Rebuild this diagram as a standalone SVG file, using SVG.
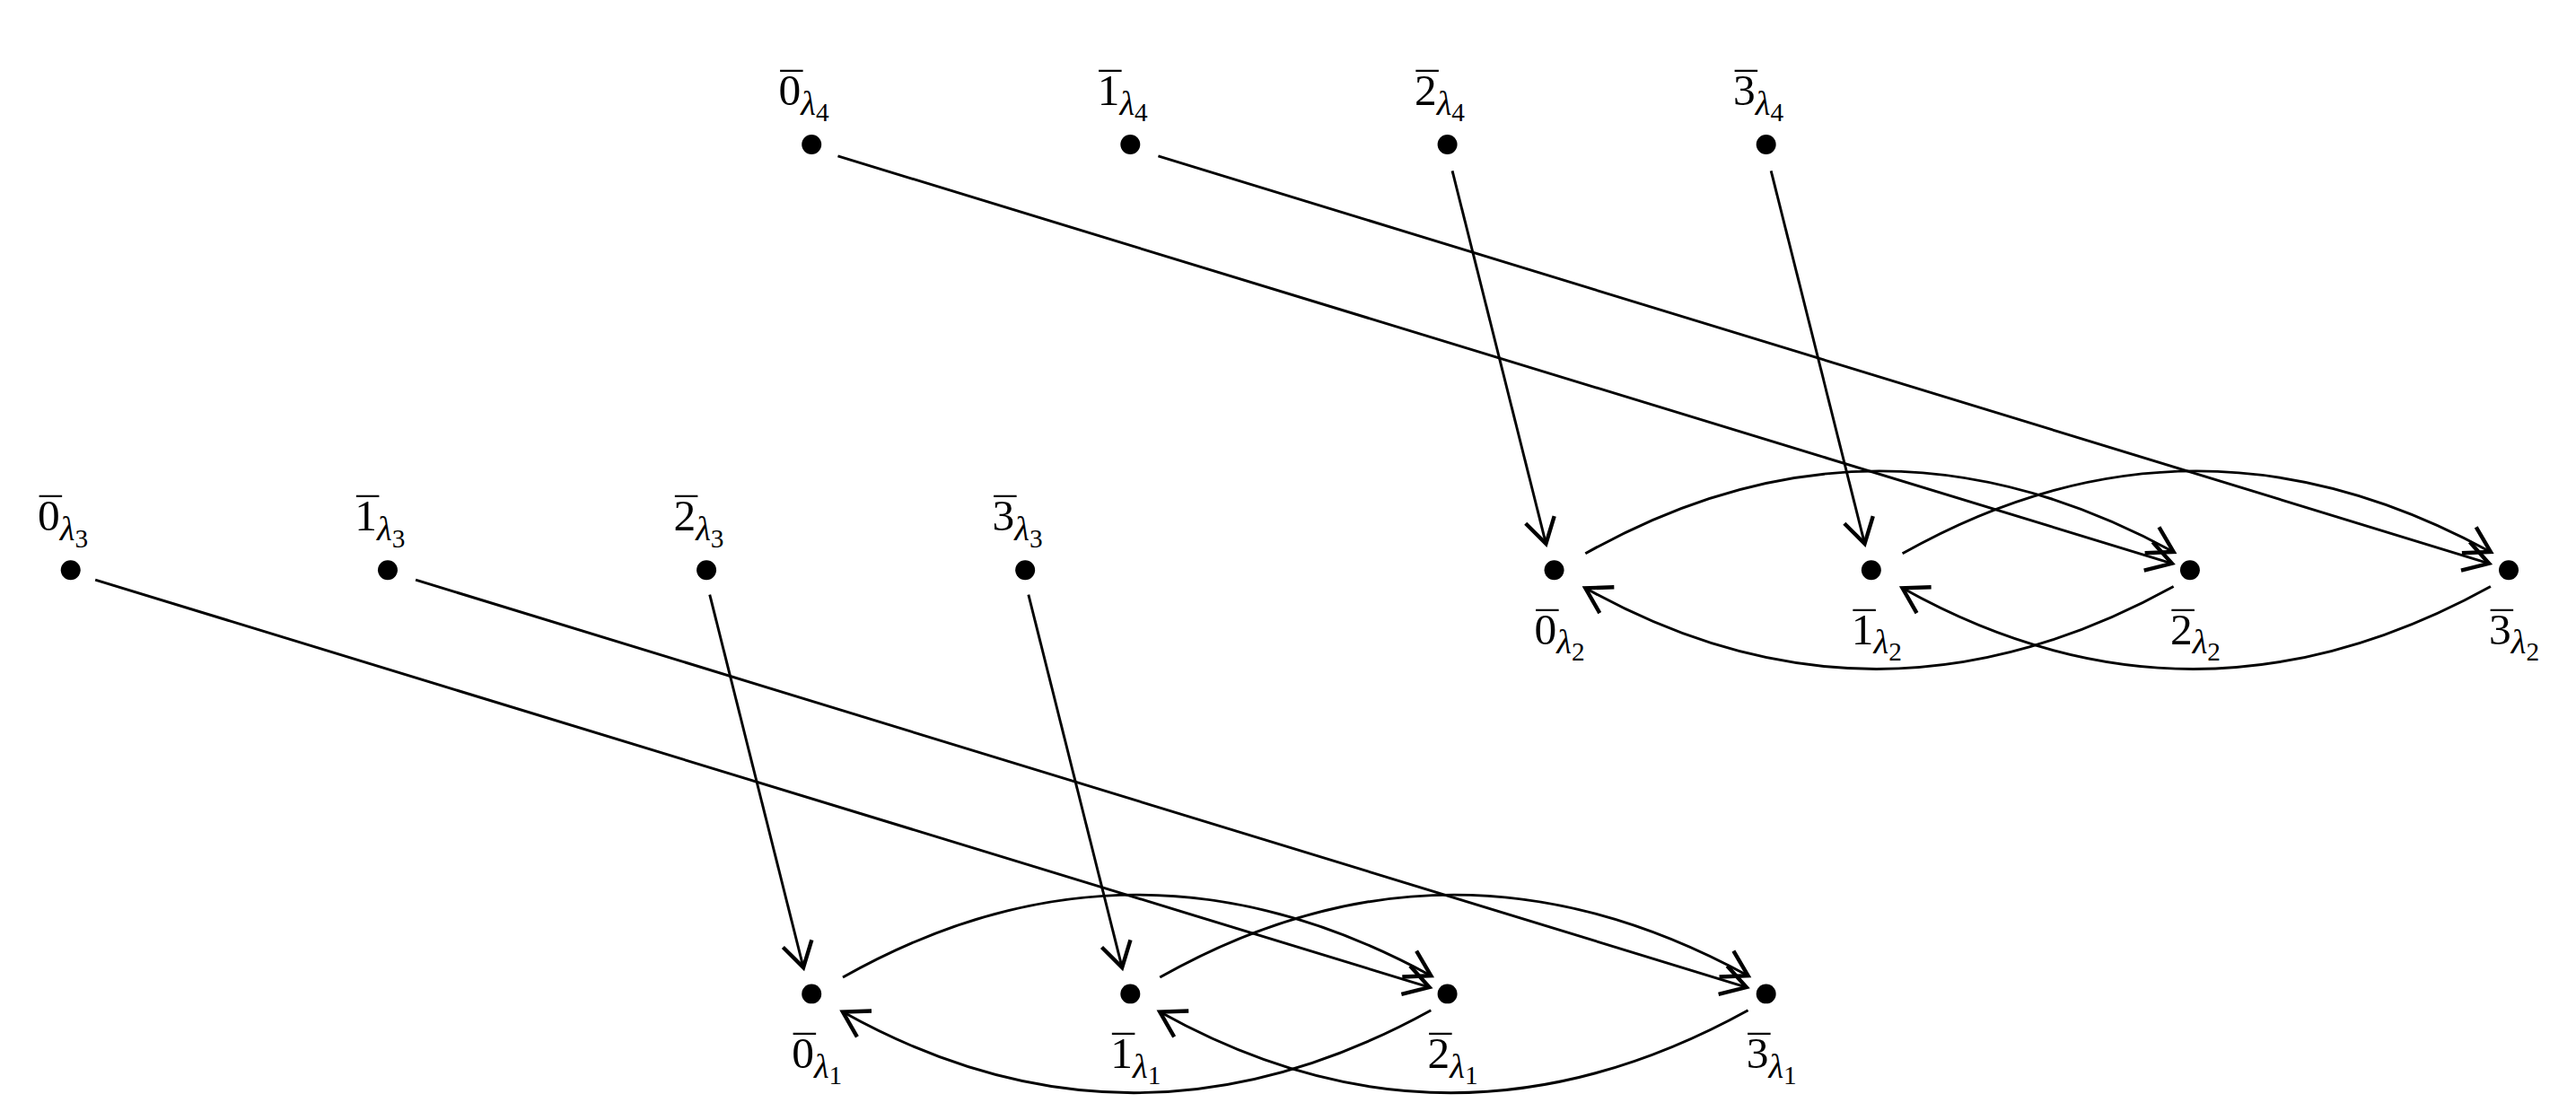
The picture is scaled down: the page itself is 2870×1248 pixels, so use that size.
<svg xmlns="http://www.w3.org/2000/svg" width="2870" height="1248" viewBox="0 0 2870 1248">
<defs>
<marker id="ah" markerUnits="userSpaceOnUse" markerWidth="30" markerHeight="30" viewBox="-14 -10 16 20" refX="0" refY="0" orient="auto">
<path d="M-10,-6 L0,0 L-10,6" fill="none" stroke="#000" stroke-width="1.6"/>
</marker>
</defs>
<style>
text{font-family:"Liberation Serif","DejaVu Serif",serif;font-size:27px;fill:#000}
.l{font-style:italic;font-size:21px}
.n{font-size:16px}
.m{font-size:27px}
.e{fill:none;stroke:#000;stroke-width:1.6}
</style>
<rect width="2870" height="1248" fill="#fff"/>
<g transform="scale(1.8304)">
<g id="top">
<g id="n0l4"><circle cx="494" cy="88" r="6"/><text x="474" y="64">0<tspan class="l" dy="6">λ</tspan><tspan class="n" dy="4">4</tspan></text><text class="m" x="475" y="63">¯</text></g>
<g id="n1l4"><circle cx="688" cy="88" r="6"/><text x="668" y="64">1<tspan class="l" dy="6">λ</tspan><tspan class="n" dy="4">4</tspan></text><text class="m" x="669" y="63">¯</text></g>
<g id="n2l4"><circle cx="881" cy="88" r="6"/><text x="861" y="64">2<tspan class="l" dy="6">λ</tspan><tspan class="n" dy="4">4</tspan></text><text class="m" x="862" y="63">¯</text></g>
<g id="n3l4"><circle cx="1075" cy="88" r="6"/><text x="1055" y="64">3<tspan class="l" dy="6">λ</tspan><tspan class="n" dy="4">4</tspan></text><text class="m" x="1056" y="63">¯</text></g>
<g id="n0l2"><circle cx="946" cy="347" r="6"/><text x="934" y="392">0<tspan class="l" dy="6">λ</tspan><tspan class="n" dy="4">2</tspan></text><text class="m" x="935" y="391">¯</text></g>
<g id="n1l2"><circle cx="1139" cy="347" r="6"/><text x="1127" y="392">1<tspan class="l" dy="6">λ</tspan><tspan class="n" dy="4">2</tspan></text><text class="m" x="1128" y="391">¯</text></g>
<g id="n2l2"><circle cx="1333" cy="347" r="6"/><text x="1321" y="392">2<tspan class="l" dy="6">λ</tspan><tspan class="n" dy="4">2</tspan></text><text class="m" x="1322" y="391">¯</text></g>
<g id="n3l2"><circle cx="1527" cy="347" r="6"/><text x="1515" y="392">3<tspan class="l" dy="6">λ</tspan><tspan class="n" dy="4">2</tspan></text><text class="m" x="1516" y="391">¯</text></g>
</g>
<g id="bottom">
<g id="n0l3"><circle cx="43" cy="347" r="6"/><text x="23" y="323">0<tspan class="l" dy="6">λ</tspan><tspan class="n" dy="4">3</tspan></text><text class="m" x="24" y="322">¯</text></g>
<g id="n1l3"><circle cx="236" cy="347" r="6"/><text x="216" y="323">1<tspan class="l" dy="6">λ</tspan><tspan class="n" dy="4">3</tspan></text><text class="m" x="217" y="322">¯</text></g>
<g id="n2l3"><circle cx="430" cy="347" r="6"/><text x="410" y="323">2<tspan class="l" dy="6">λ</tspan><tspan class="n" dy="4">3</tspan></text><text class="m" x="411" y="322">¯</text></g>
<g id="n3l3"><circle cx="624" cy="347" r="6"/><text x="604" y="323">3<tspan class="l" dy="6">λ</tspan><tspan class="n" dy="4">3</tspan></text><text class="m" x="605" y="322">¯</text></g>
<g id="n0l1"><circle cx="494" cy="605" r="6"/><text x="482" y="650">0<tspan class="l" dy="6">λ</tspan><tspan class="n" dy="4">1</tspan></text><text class="m" x="483" y="649">¯</text></g>
<g id="n1l1"><circle cx="688" cy="605" r="6"/><text x="676" y="650">1<tspan class="l" dy="6">λ</tspan><tspan class="n" dy="4">1</tspan></text><text class="m" x="677" y="649">¯</text></g>
<g id="n2l1"><circle cx="881" cy="605" r="6"/><text x="869" y="650">2<tspan class="l" dy="6">λ</tspan><tspan class="n" dy="4">1</tspan></text><text class="m" x="870" y="649">¯</text></g>
<g id="n3l1"><circle cx="1075" cy="605" r="6"/><text x="1063" y="650">3<tspan class="l" dy="6">λ</tspan><tspan class="n" dy="4">1</tspan></text><text class="m" x="1064" y="649">¯</text></g>
</g>
<g id="connectors">
<g>
<path class="e" marker-end="url(#ah)" d="M510,95 L1322,343"/>
<path class="e" marker-end="url(#ah)" d="M705,95 L1515,343"/>
<path class="e" marker-end="url(#ah)" d="M884,104 L941,331"/>
<path class="e" marker-end="url(#ah)" d="M1078,104 L1135,331"/>
<path class="e" marker-end="url(#ah)" d="M965,337 Q1142,237 1323,336"/>
<path class="e" marker-end="url(#ah)" d="M1158,337 Q1335,237 1516,336"/>
<path class="e" marker-end="url(#ah)" d="M1323,357 Q1142,457 965,358"/>
<path class="e" marker-end="url(#ah)" d="M1516,357 Q1335,457 1158,358"/>
</g>
<g transform="translate(-452,258)">
<path class="e" marker-end="url(#ah)" d="M510,95 L1322,343"/>
<path class="e" marker-end="url(#ah)" d="M705,95 L1515,343"/>
<path class="e" marker-end="url(#ah)" d="M884,104 L941,331"/>
<path class="e" marker-end="url(#ah)" d="M1078,104 L1135,331"/>
<path class="e" marker-end="url(#ah)" d="M965,337 Q1142,237 1323,336"/>
<path class="e" marker-end="url(#ah)" d="M1158,337 Q1335,237 1516,336"/>
<path class="e" marker-end="url(#ah)" d="M1323,357 Q1142,457 965,358"/>
<path class="e" marker-end="url(#ah)" d="M1516,357 Q1335,457 1158,358"/>
</g>
</g>
</g>
</svg>
